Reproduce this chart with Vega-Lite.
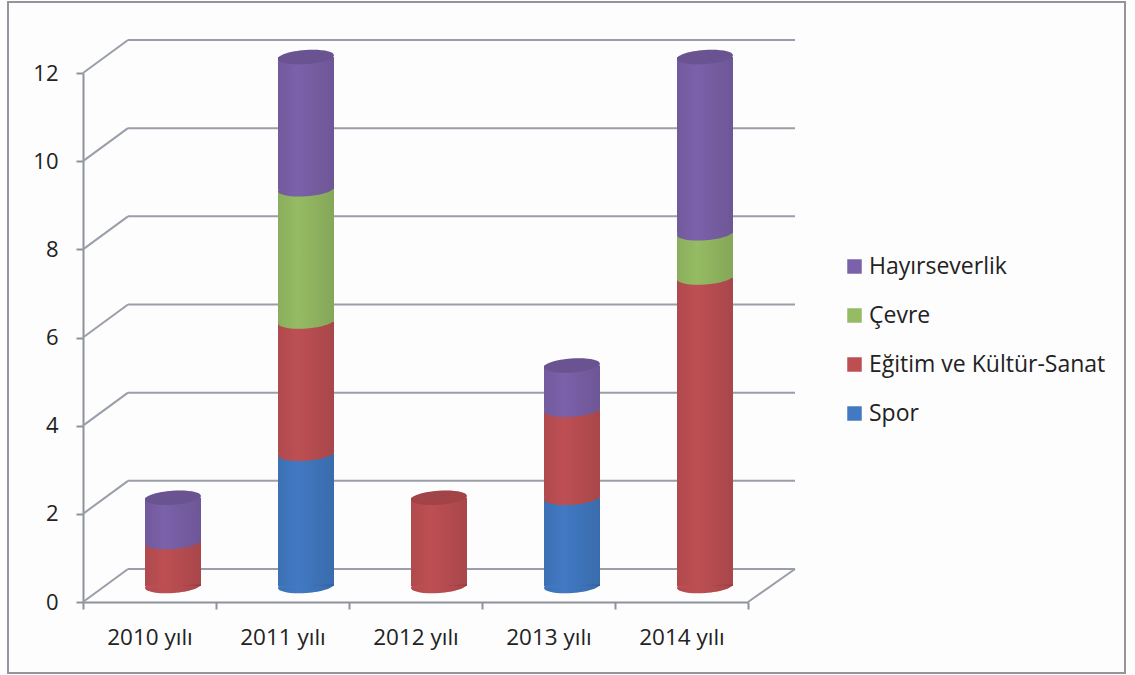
{
  "$schema": "https://vega.github.io/schema/vega-lite/v6.json",
  "autosize": "none",
  "width": 665,
  "height": 529,
  "padding": {"left": 83, "top": 73, "right": 387, "bottom": 73},
  "background": "#fdfdfd",
  "config": {
    "view": {"stroke": null},
    "font": "Open Sans"
  },
  "datasets": {
    "uyeler": [
      {"yil": "2010 yılı", "alan": "Eğitim ve Kültür-Sanat", "sira": 2, "sayi": 1},
      {"yil": "2010 yılı", "alan": "Hayırseverlik", "sira": 4, "sayi": 1},
      {"yil": "2011 yılı", "alan": "Spor", "sira": 1, "sayi": 3},
      {"yil": "2011 yılı", "alan": "Eğitim ve Kültür-Sanat", "sira": 2, "sayi": 3},
      {"yil": "2011 yılı", "alan": "Çevre", "sira": 3, "sayi": 3},
      {"yil": "2011 yılı", "alan": "Hayırseverlik", "sira": 4, "sayi": 3},
      {"yil": "2012 yılı", "alan": "Eğitim ve Kültür-Sanat", "sira": 2, "sayi": 2},
      {"yil": "2013 yılı", "alan": "Spor", "sira": 1, "sayi": 2},
      {"yil": "2013 yılı", "alan": "Eğitim ve Kültür-Sanat", "sira": 2, "sayi": 2},
      {"yil": "2013 yılı", "alan": "Hayırseverlik", "sira": 4, "sayi": 1},
      {"yil": "2014 yılı", "alan": "Eğitim ve Kültür-Sanat", "sira": 2, "sayi": 7},
      {"yil": "2014 yılı", "alan": "Çevre", "sira": 3, "sayi": 1},
      {"yil": "2014 yılı", "alan": "Hayırseverlik", "sira": 4, "sayi": 4}
    ],
    "izgara": [
      {"deger": 0}, {"deger": 2}, {"deger": 4}, {"deger": 6}, {"deger": 8}, {"deger": 10}, {"deger": 12}
    ],
    "taban": [{"deger": 0}],
    "cerceve": [{"ad": "kenar"}]
  },
  "layer": [
    {
      "data": {"name": "cerceve"},
      "mark": {"type": "rect", "fill": null, "stroke": "#92959c", "strokeWidth": 2},
      "encoding": {
        "x": {"value": -75},
        "x2": {"value": 1042},
        "y": {"value": -71},
        "y2": {"value": 600}
      }
    },
    {
      "data": {"name": "izgara"},
      "mark": {"type": "rule", "color": "#9a9ea9", "strokeWidth": 2, "y2Offset": -33},
      "encoding": {
        "x": {"value": 0},
        "x2": {"value": 45},
        "y": {"field": "deger", "type": "quantitative", "scale": {"domain": [0, 12], "nice": false}, "axis": {
          "values": [0, 2, 4, 6, 8, 10, 12],
          "title": null,
          "grid": false,
          "domainColor": "#8e929b",
          "domainWidth": 2,
          "tickColor": "#8e929b",
          "tickWidth": 2,
          "tickSize": 7,
          "labelFontSize": 22,
          "labelColor": "#222222",
          "labelPadding": 18
        }},
        "y2": {"field": "deger"}
      }
    },
    {
      "data": {"name": "izgara"},
      "mark": {"type": "rule", "color": "#9a9ea9", "strokeWidth": 2, "yOffset": -33, "y2Offset": -33},
      "encoding": {
        "x": {"value": 45},
        "x2": {"value": 712},
        "y": {"field": "deger", "type": "quantitative"},
        "y2": {"field": "deger"}
      }
    },
    {
      "data": {"name": "taban"},
      "mark": {"type": "rule", "color": "#9a9ea9", "strokeWidth": 2, "y2Offset": -33},
      "encoding": {
        "x": {"value": 665},
        "x2": {"value": 712},
        "y": {"field": "deger", "type": "quantitative"},
        "y2": {"field": "deger"}
      }
    },
    {
      "data": {"name": "uyeler"},
      "transform": [
        {"stack": "sayi", "groupby": ["yil"], "sort": [{"field": "sira"}], "as": ["alt", "ust"]}
      ],
      "layer": [
        {
          "mark": {"type": "bar", "width": 56, "xOffset": 23.5, "yOffset": -16, "y2Offset": -16},
          "encoding": {
            "x": {
              "field": "yil",
              "type": "nominal",
              "scale": {"paddingInner": 0, "paddingOuter": 0},
              "sort": ["2010 yılı", "2011 yılı", "2012 yılı", "2013 yılı", "2014 yılı"],
              "axis": {
                "title": null,
                "labelAngle": 0,
                "tickBand": "extent",
                "domainColor": "#8e929b",
                "domainWidth": 2,
                "tickColor": "#8e929b",
                "tickWidth": 2,
                "tickSize": 7,
                "labelFontSize": 22.5,
                "labelColor": "#222222",
                "labelPadding": 17
              }
            },
            "y": {"field": "ust", "type": "quantitative"},
            "y2": {"field": "alt"},
            "color": {
              "field": "alan",
              "type": "nominal",
              "scale": {
                "domain": ["Hayırseverlik", "Çevre", "Eğitim ve Kültür-Sanat", "Spor"],
                "range": ["#7b61a9", "#95bb63", "#bd4f53", "#4179c2"]
              },
              "legend": {
                "title": null,
                "orient": "none",
                "legendX": 760,
                "legendY": 182,
                "symbolType": "square",
                "symbolSize": 210,
                "symbolStrokeWidth": 0,
                "symbolOpacity": 1,
                "labelFontSize": 23,
                "labelLimit": 320,
                "labelColor": "#222222",
                "labelOffset": 3,
                "rowPadding": 25
              }
            }
          }
        },
        {
          "mark": {
            "type": "point",
            "filled": true,
            "opacity": 1,
            "size": 3136,
            "xOffset": 23.5,
            "yOffset": -16,
            "shape": "M-0.9976,0.07 A1,0.25 -4 1 1 0.9976,-0.07 A1,0.25 -4 1 1 -0.9976,0.07 Z"
          },
          "encoding": {
            "x": {"field": "yil", "type": "nominal"},
            "y": {"field": "alt", "type": "quantitative"},
            "color": {"field": "alan", "type": "nominal", "legend": null}
          }
        },
        {
          "transform": [
            {"joinaggregate": [{"op": "max", "field": "sira", "as": "enUst"}], "groupby": ["yil"]},
            {"filter": "datum.sira === datum.enUst"}
          ],
          "layer": [
            {
              "mark": {
                "type": "bar",
                "width": 56,
                "xOffset": 23.5,
                "yOffset": -16,
                "y2Offset": -16,
                "color": {"gradient": "linear", "x1": 0, "x2": 1, "y1": 0, "y2": 0, "stops": [
                  {"offset": 0, "color": "rgba(0,0,0,0.07)"},
                  {"offset": 0.35, "color": "rgba(0,0,0,0)"},
                  {"offset": 1, "color": "rgba(0,0,0,0.11)"}
                ]}
              },
              "encoding": {
                "x": {"field": "yil", "type": "nominal"},
                "y": {"field": "ust", "type": "quantitative"},
                "y2": {"datum": 0}
              }
            },
            {
              "mark": {
                "type": "point",
                "filled": true,
                "opacity": 1,
                "size": 3136,
                "xOffset": 23.5,
                "yOffset": -16,
                "shape": "M-0.9976,0.07 A1,0.25 -4 1 0 0.9976,-0.07 Z",
                "color": {"gradient": "linear", "x1": 0, "x2": 1, "y1": 0, "y2": 0, "stops": [
                  {"offset": 0, "color": "rgba(0,0,0,0.07)"},
                  {"offset": 0.35, "color": "rgba(0,0,0,0)"},
                  {"offset": 1, "color": "rgba(0,0,0,0.11)"}
                ]}
              },
              "encoding": {
                "x": {"field": "yil", "type": "nominal"},
                "y": {"datum": 0}
              }
            },
            {
              "mark": {
                "type": "point",
                "filled": true,
                "opacity": 1,
                "size": 3136,
                "xOffset": 23.5,
                "yOffset": -16,
                "shape": "M-0.9976,0.07 A1,0.25 -4 1 1 0.9976,-0.07 A1,0.25 -4 1 1 -0.9976,0.07 Z"
              },
              "encoding": {
                "x": {"field": "yil", "type": "nominal"},
                "y": {"field": "ust", "type": "quantitative"},
                "color": {"field": "alan", "type": "nominal", "legend": null}
              }
            },
            {
              "mark": {
                "type": "point",
                "filled": true,
                "color": "#000000",
                "opacity": 0.14,
                "size": 3136,
                "xOffset": 23.5,
                "yOffset": -16,
                "shape": "M-0.9976,0.07 A1,0.25 -4 1 1 0.9976,-0.07 A1,0.25 -4 1 1 -0.9976,0.07 Z"
              },
              "encoding": {
                "x": {"field": "yil", "type": "nominal"},
                "y": {"field": "ust", "type": "quantitative"}
              }
            }
          ]
        }
      ]
    }
  ]
}
